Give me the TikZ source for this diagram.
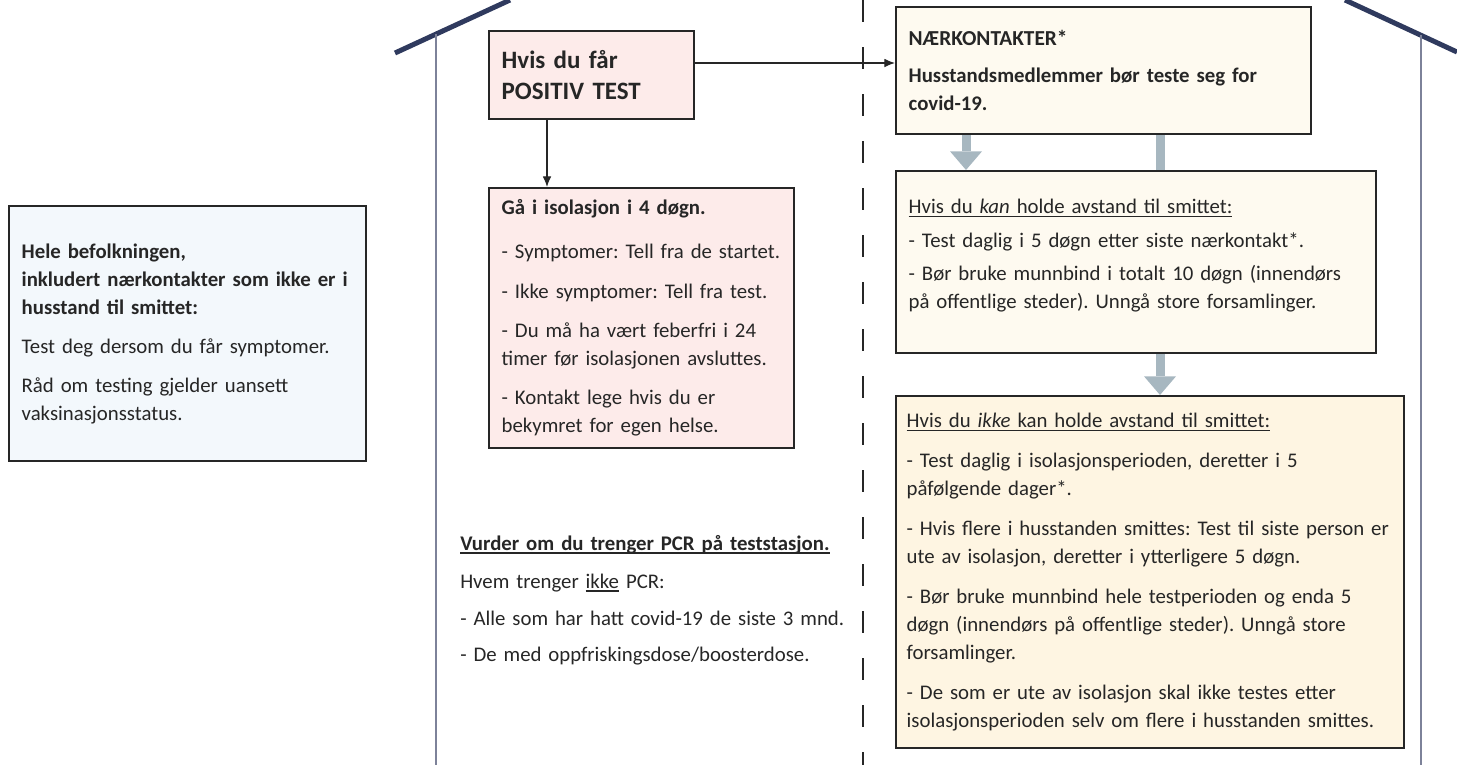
\documentclass[tikz,border=0pt]{standalone}
\usepackage{fontspec}
\setmainfont{Carlito}
\usetikzlibrary{arrows.meta,backgrounds}
\frenchspacing

\definecolor{roofblue}{HTML}{2F3A5E}
\definecolor{wallgray}{HTML}{7D8299}
\definecolor{boxline}{HTML}{262626}
\definecolor{txt}{HTML}{262626}
\definecolor{pinkfill}{HTML}{FDEBEA}
\definecolor{creamfill}{HTML}{FEFAF0}
\definecolor{yellowfill}{HTML}{FEF5E2}
\definecolor{bluefill}{HTML}{F3F8FC}
\definecolor{flowgray}{HTML}{A7B7C0}

% understreking
\newcommand{\undrl}[1]{\leavevmode\setbox0\hbox{#1}%
  \rlap{\vrule height -1.7pt depth 2.7pt width \wd0}\box0\relax}

\tikzset{
  infobox/.style={draw=boxline, line width=1.5pt, anchor=north west, align=left,
    inner xsep=9.5pt, inner ysep=3pt, text=txt,
    font=\fontsize{15.6}{21}\selectfont},
  titlebox/.style={infobox, font=\fontsize{18.75}{23.25}\selectfont\bfseries},
  grayflow/.style={draw=flowgray, line width=6.75pt,
    -{Triangle[length=14pt,width=24pt,line width=0pt]}},
  blackflow/.style={draw=boxline, line width=0.9pt, -{Latex[length=8pt,width=6.5pt]}},
  wall/.style={draw=wallgray, line width=1.5pt},
  roof/.style={draw=roofblue, line width=3.75pt},
}

\begin{document}
\begin{tikzpicture}[x=0.75pt,y=-0.75pt]
\useasboundingbox (0,0) rectangle (1457,765);

% huset
\draw[roof] (395,53) -- (510,0);
\draw[roof] (1345,0) -- (1457,52);
\draw[wall] (436,34) -- (436,765);
\draw[wall] (1421,35) -- (1421,765);

% skillelinje
\draw[boxline, line width=1.1pt, dash pattern=on 16.5pt off 18.75pt] (863,0) -- (863,765);

% hele befolkningen
\node[infobox, fill=bluefill, minimum width=267.75pt, minimum height=191.25pt,
  text width=248.75pt] (befolk) at (8,205)
  {{\bfseries Hele befolkningen,\\ inkludert nærkontakter som ikke er i\\ husstand til smittet:}\\[8.25pt]
   Test deg dersom du får symptomer.\\[8.25pt]
   Råd om testing gjelder uansett\\ vaksinasjonsstatus.};

% positiv test
\node[titlebox, fill=pinkfill, minimum width=153.75pt, minimum height=66pt,
  text width=134.75pt] (pos) at (488,30) {Hvis du får\\ POSITIV TEST};

\node[infobox, fill=pinkfill, minimum width=228.75pt, minimum height=195pt,
  text width=209.75pt] (iso) at (488,187)
  {\textbf{Gå i isolasjon i 4 døgn.}\\[12pt]
   - Symptomer: Tell fra de startet.\\[8.5pt]
   - Ikke symptomer: Tell fra test.\\[8.5pt]
   - Du må ha vært feberfri i 24\\ timer før isolasjonen avsluttes.\\[8.5pt]
   - Kontakt lege hvis du er\\ bekymret for egen helse.};

% PCR
\node[anchor=base west, inner sep=0pt, align=left, text=txt, text width=300pt,
  font=\fontsize{15.6}{21}\selectfont] (pcr) at (460,550)
  {\undrl{\bfseries Vurder om du trenger PCR på teststasjon.}\\[7.5pt]
   Hvem trenger \undrl{ikke} PCR:\\[7pt]
   - Alle som har hatt covid-19 de siste 3 mnd.\\[6pt]
   - De med oppfriskingsdose/boosterdose.};

% naerkontakter
\node[infobox, fill=creamfill, minimum width=311.25pt, minimum height=95.25pt,
  text width=292.25pt] (naer) at (895,6)
  {{\fontsize{16}{21}\selectfont\bfseries NÆRKONTAKTER*}\\[7pt]
   \textbf{Husstandsmedlemmer bør teste seg for\\ covid-19.}};

\node[infobox, fill=creamfill, minimum width=360pt, minimum height=136.5pt,
  text width=341pt] (kan) at (895,170)
  {\undrl{Hvis du {\itshape kan} holde avstand til smittet:}\\[4.5pt]
   - Test daglig i 5 døgn etter siste nærkontakt*.\\[4pt]
   - Bør bruke munnbind i totalt 10 døgn (innendørs\\ på offentlige steder). Unngå store forsamlinger.\\[-9pt]\mbox{}};

\node[infobox, fill=yellowfill, minimum width=381pt, minimum height=264pt,
  inner xsep=8pt, text width=365pt] (ikke) at (895,395)
  {\undrl{Hvis du {\itshape ikke} kan holde avstand til smittet:}\\[9pt]
   - Test daglig i isolasjonsperioden, deretter i 5\\ påfølgende dager*.\\[9pt]
   - Hvis flere i husstanden smittes: Test til siste person er\\ ute av isolasjon, deretter i ytterligere 5 døgn.\\[9pt]
   - Bør bruke munnbind hele testperioden og enda 5\\ døgn (innendørs på offentlige steder). Unngå store\\ forsamlinger.\\[9pt]
   - De som er ute av isolasjon skal ikke testes etter\\ isolasjonsperioden selv om flere i husstanden smittes.};

% piler
\coordinate (yright) at (0,63);
\coordinate (xdown) at (547,0);
\coordinate (xkan) at (966,0);
\coordinate (xikke) at (1160,0);

\draw[blackflow] (pos.east |- yright) -- (naer.west |- yright);
\draw[blackflow] (pos.south -| xdown) -- (iso.north -| xdown);

\begin{pgfonlayer}{background}
\draw[grayflow] (naer.south -| xkan) -- (kan.north -| xkan);
\draw[grayflow] (naer.south -| xikke) -- (ikke.north -| xikke);
\end{pgfonlayer}

\end{tikzpicture}
\end{document}
